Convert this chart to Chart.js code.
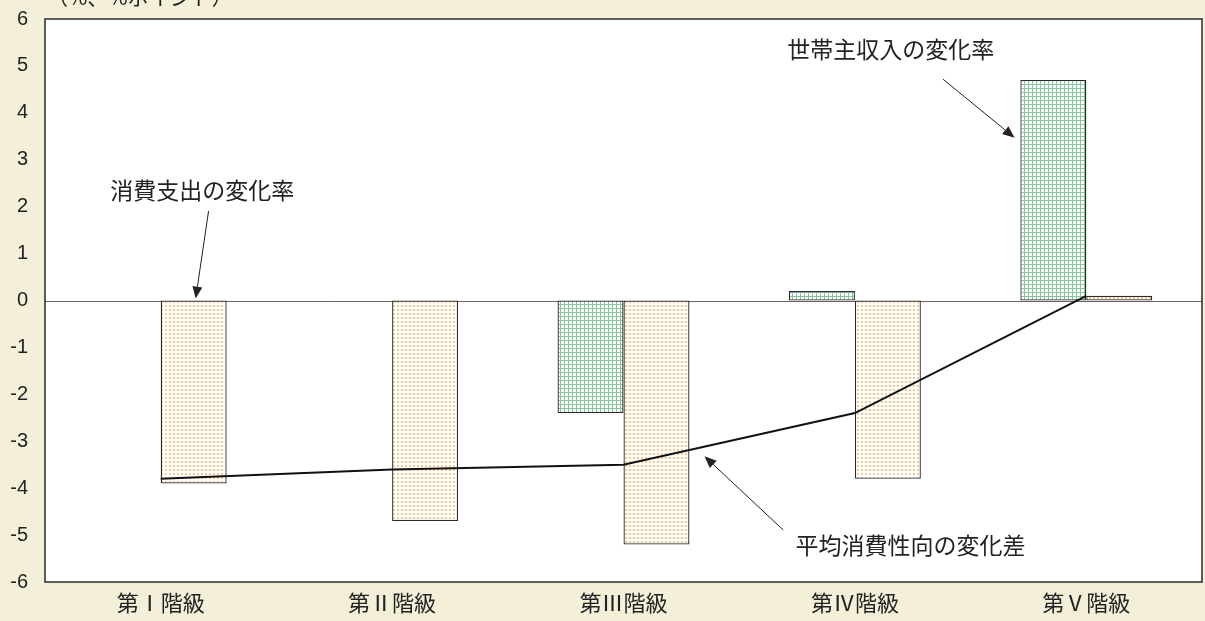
<!DOCTYPE html>
<html>
<head>
<meta charset="utf-8">
<script src="https://cdn.jsdelivr.net/npm/chart.js@4/dist/chart.umd.min.js"></script>
<style>
  html, body { margin: 0; padding: 0; background: #f3efd9; }
  #wrap { width: 1205px; height: 621px; }
</style>
</head>
<body>
<div id="wrap"><canvas id="barChart"></canvas></div>
<script>
// data
const categories = ['第Ⅰ階級', '第Ⅱ階級', '第Ⅲ階級', '第Ⅳ階級', '第Ⅴ階級'];
const incomeChange = [0, 0, -2.4, 0.2, 4.7];          // 世帯主収入の変化率
const spendingChange = [-3.9, -4.7, -5.2, -3.8, 0.1]; // 消費支出の変化率
const propensityDiff = [-3.8, -3.6, -3.5, -2.4, 0.1]; // 平均消費性向の変化差
const yTicks = [-6, -5, -4, -3, -2, -1, 0, 1, 2, 3, 4, 5, 6];
const unitLabel = '（%、%ポイント）';

// callouts: text position and arrow, in (category index, value)
const callouts = [
  { text: '世帯主収入の変化率', at: [3.155, 5.36], from: [3.38, 4.72], to: [3.69, 3.47] },
  { text: '消費支出の変化率', at: [0.18, 2.34], from: [0.207, 1.91], to: [0.151, 0.04] },
  { text: '平均消費性向の変化差', at: [3.24, -5.21], from: [2.69, -4.89], to: [2.35, -3.32] }
];

const FONT = '"Liberation Sans", "Noto Sans CJK JP", sans-serif';
const JP = '"Noto Sans CJK JP", "Liberation Sans", sans-serif';

function makePattern(kind) {
  const c = document.createElement('canvas');
  c.width = 4; c.height = 4;
  const g = c.getContext('2d');
  g.fillStyle = '#ffffff';
  g.fillRect(0, 0, 4, 4);
  if (kind === 'grid') {
    g.fillStyle = '#86c69b';
    g.fillRect(0, 0, 4, 1);
    g.fillRect(0, 0, 1, 4);
  } else {
    g.fillStyle = '#fbc890';
    g.fillRect(1, 1, 2, 2);
  }
  return g.createPattern(c, 'repeat');
}

const framePlugin = {
  id: 'frame',
  beforeDraw(chart) {
    const { ctx, chartArea: a } = chart;
    ctx.save();
    ctx.fillStyle = '#ffffff';
    ctx.fillRect(a.left, a.top, a.right - a.left, a.bottom - a.top);
    ctx.restore();
  },
  beforeDatasetsDraw(chart) {
    const { ctx, chartArea: a, scales } = chart;
    const y0 = Math.round(scales.y.getPixelForValue(0)) + 0.5;
    ctx.save();
    ctx.strokeStyle = '#666';
    ctx.lineWidth = 1;
    ctx.beginPath();
    ctx.moveTo(a.left, y0);
    ctx.lineTo(a.right, y0);
    ctx.stroke();
    ctx.restore();
  },
  afterDraw(chart) {
    const { ctx, chartArea: a, scales } = chart;
    ctx.save();
    ctx.strokeStyle = '#2a2a2a';
    ctx.lineWidth = 1.5;
    ctx.strokeRect(a.left, a.top, a.right - a.left, a.bottom - a.top);

    // unit label, cut off by the top edge
    ctx.fillStyle = '#222';
    ctx.font = '21px ' + JP;
    ctx.textAlign = 'left';
    ctx.textBaseline = 'alphabetic';
    ctx.fillText(unitLabel, a.left + 2, 5);

    const px = p => [scales.x.getPixelForValue(p[0]), scales.y.getPixelForValue(p[1])];
    ctx.font = '23px ' + JP;
    ctx.textAlign = 'center';
    ctx.textBaseline = 'middle';
    ctx.strokeStyle = '#222';
    ctx.lineWidth = 1;
    callouts.forEach(c => {
      const [tx, ty] = px(c.at);
      ctx.fillText(c.text, tx, ty);
      const [x1, y1] = px(c.from);
      const [x2, y2] = px(c.to);
      const ang = Math.atan2(y2 - y1, x2 - x1);
      const len = 12, half = 5;
      const bx = x2 - len * Math.cos(ang), by = y2 - len * Math.sin(ang);
      ctx.beginPath();
      ctx.moveTo(x1, y1);
      ctx.lineTo(bx, by);
      ctx.stroke();
      ctx.beginPath();
      ctx.moveTo(x2, y2);
      ctx.lineTo(bx + half * Math.sin(ang), by - half * Math.cos(ang));
      ctx.lineTo(bx - half * Math.sin(ang), by + half * Math.cos(ang));
      ctx.closePath();
      ctx.fill();
    });
    ctx.restore();
  }
};

const ctx = document.getElementById('barChart').getContext('2d');
new Chart(ctx, {
  data: {
    labels: categories,
    datasets: [
      {
        type: 'line',
        label: '平均消費性向の変化差',
        data: propensityDiff,
        borderColor: '#111',
        borderWidth: 2,
        pointRadius: 0,
        tension: 0,
        order: 0
      },
      {
        type: 'bar',
        label: '世帯主収入の変化率',
        data: incomeChange,
        backgroundColor: makePattern('grid'),
        borderColor: '#2a2a2a',
        borderWidth: 1.3,
        borderSkipped: false,
        categoryPercentage: 0.57,
        barPercentage: 1.0,
        order: 1
      },
      {
        type: 'bar',
        label: '消費支出の変化率',
        data: spendingChange,
        backgroundColor: makePattern('dots'),
        borderColor: '#2a2a2a',
        borderWidth: 1.3,
        borderSkipped: false,
        categoryPercentage: 0.57,
        barPercentage: 1.0,
        order: 1
      }
    ]
  },
  options: {
    responsive: true,
    maintainAspectRatio: false,
    animation: false,
    layout: { padding: { top: 19, right: 3, left: 0, bottom: 0 } },
    plugins: {
      legend: { display: false },
      tooltip: { enabled: false }
    },
    scales: {
      x: {
        offset: true,
        grid: { display: false, drawTicks: false },
        border: { display: false },
        ticks: { color: '#222', font: { family: JP, size: 22 }, padding: 7 },
        afterFit: s => { s.height = 39; s.paddingLeft = 0; s.paddingRight = 0; }
      },
      y: {
        min: -6,
        max: 6,
        afterBuildTicks: s => { s.ticks = yTicks.map(v => ({ value: v })); },
        grid: { display: false, drawTicks: false },
        border: { display: false },
        ticks: { color: '#222', font: { family: FONT, size: 20 }, padding: 17 },
        afterFit: s => { s.width = 45; s.paddingTop = 0; s.paddingBottom = 0; }
      }
    }
  },
  plugins: [framePlugin]
});
</script>
</body>
</html>
